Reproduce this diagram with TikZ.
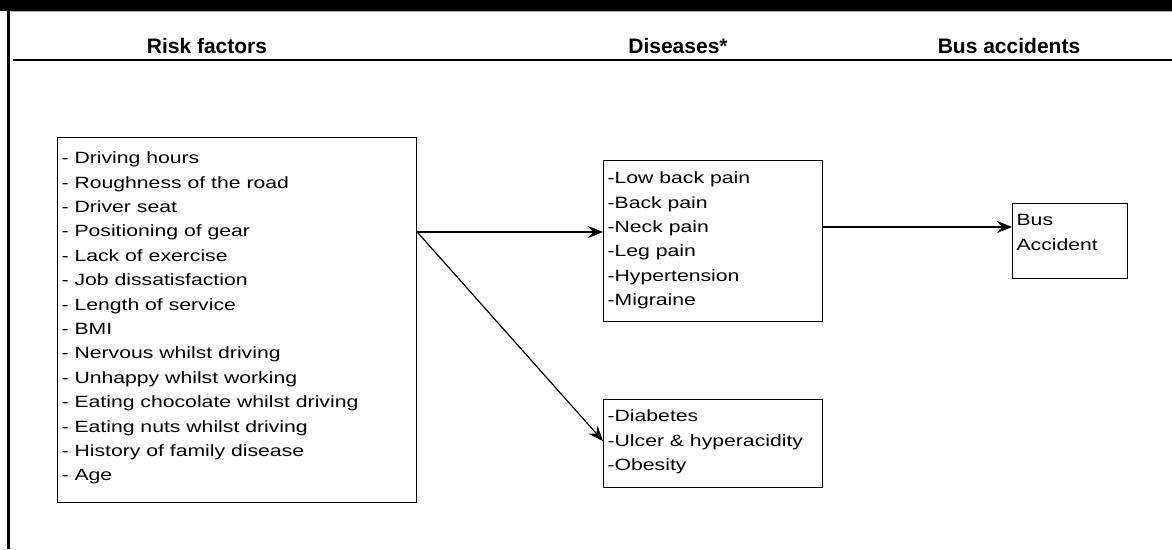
\documentclass[tikz,border=0pt]{standalone}
\usepackage{fontspec}
\setmainfont{Liberation Sans}[FakeStretch=1.3]
\newfontfamily\headfont{Liberation Sans}
\usetikzlibrary{calc, arrows.meta}

\newcommand{\boxlines}[4]{\parbox[t][#2][t]{#1}{\raggedright\rule{0pt}{#3}#4}}

\begin{document}
\begin{tikzpicture}[x=1pt, y=-1pt,
	box/.style={draw, line width=1.2pt, inner xsep=4pt, inner ysep=0pt, anchor=north west, font=\fontsize{16.3}{24.4}\selectfont},
	head/.style={anchor=base, font=\headfont\bfseries\fontsize{21}{25}\selectfont},
	arr/.style={line width=1.2pt, -{Stealth[length=15pt, width=12pt, inset=5pt]}}]
	\useasboundingbox (0,0) rectangle (1172,549);
	
	\fill (0,0) rectangle (1172,11);
	\draw[gray!60, line width=0.8pt] (11,11.6) -- (1172,11.6);
	\draw[line width=3pt] (8.5,11) -- (8.5,549);
	\draw[line width=1.5pt] (13,60) -- (1172,60);
	
	\node[head] (hrisk) at (207,53) {Risk factors};
	\node[head] (hdis) at (678,53) {Diseases*};
	\node[head] (hbus) at (1009,53) {Bus accidents};
	
	\node[box] (risk) at (57,137) {\boxlines{351pt}{365pt}{26pt}{%
		- Driving hours\\
		- Roughness of the road\\
		- Driver seat\\
		- Positioning of gear\\
		- Lack of exercise\\
		- Job dissatisfaction\\
		- Length of service\\
		- BMI\\
		- Nervous whilst driving\\
		- Unhappy whilst working\\
		- Eating chocolate whilst driving\\
		- Eating nuts whilst driving\\
		- History of family disease\\
		- Age}};
	
	\node[box] (pains) at (603,160) {\boxlines{211pt}{161pt}{23pt}{%
		-Low back pain\\
		-Back pain\\
		-Neck pain\\
		-Leg pain\\
		-Hypertension\\
		-Migraine}};
	
	\node[box] (other) at (603,399) {\boxlines{211pt}{88pt}{22pt}{%
		-Diabetes\\
		-Ulcer \& hyperacidity\\
		-Obesity}};
	
	\node[box] (bus) at (1012,203) {\boxlines{107pt}{75pt}{22pt}{%
		Bus\\
		Accident}};
	
	\coordinate (fork) at ($(risk.north east)+(0,95)$);
	\draw[arr] (fork) -- (fork -| pains.west);
	\draw[arr] (fork) -- ($(other.north west)+(0,42)$);
	\draw[arr] ($(pains.north east)+(0,67)$) -- ($(bus.north west)+(0,24)$);
\end{tikzpicture}
\end{document}
